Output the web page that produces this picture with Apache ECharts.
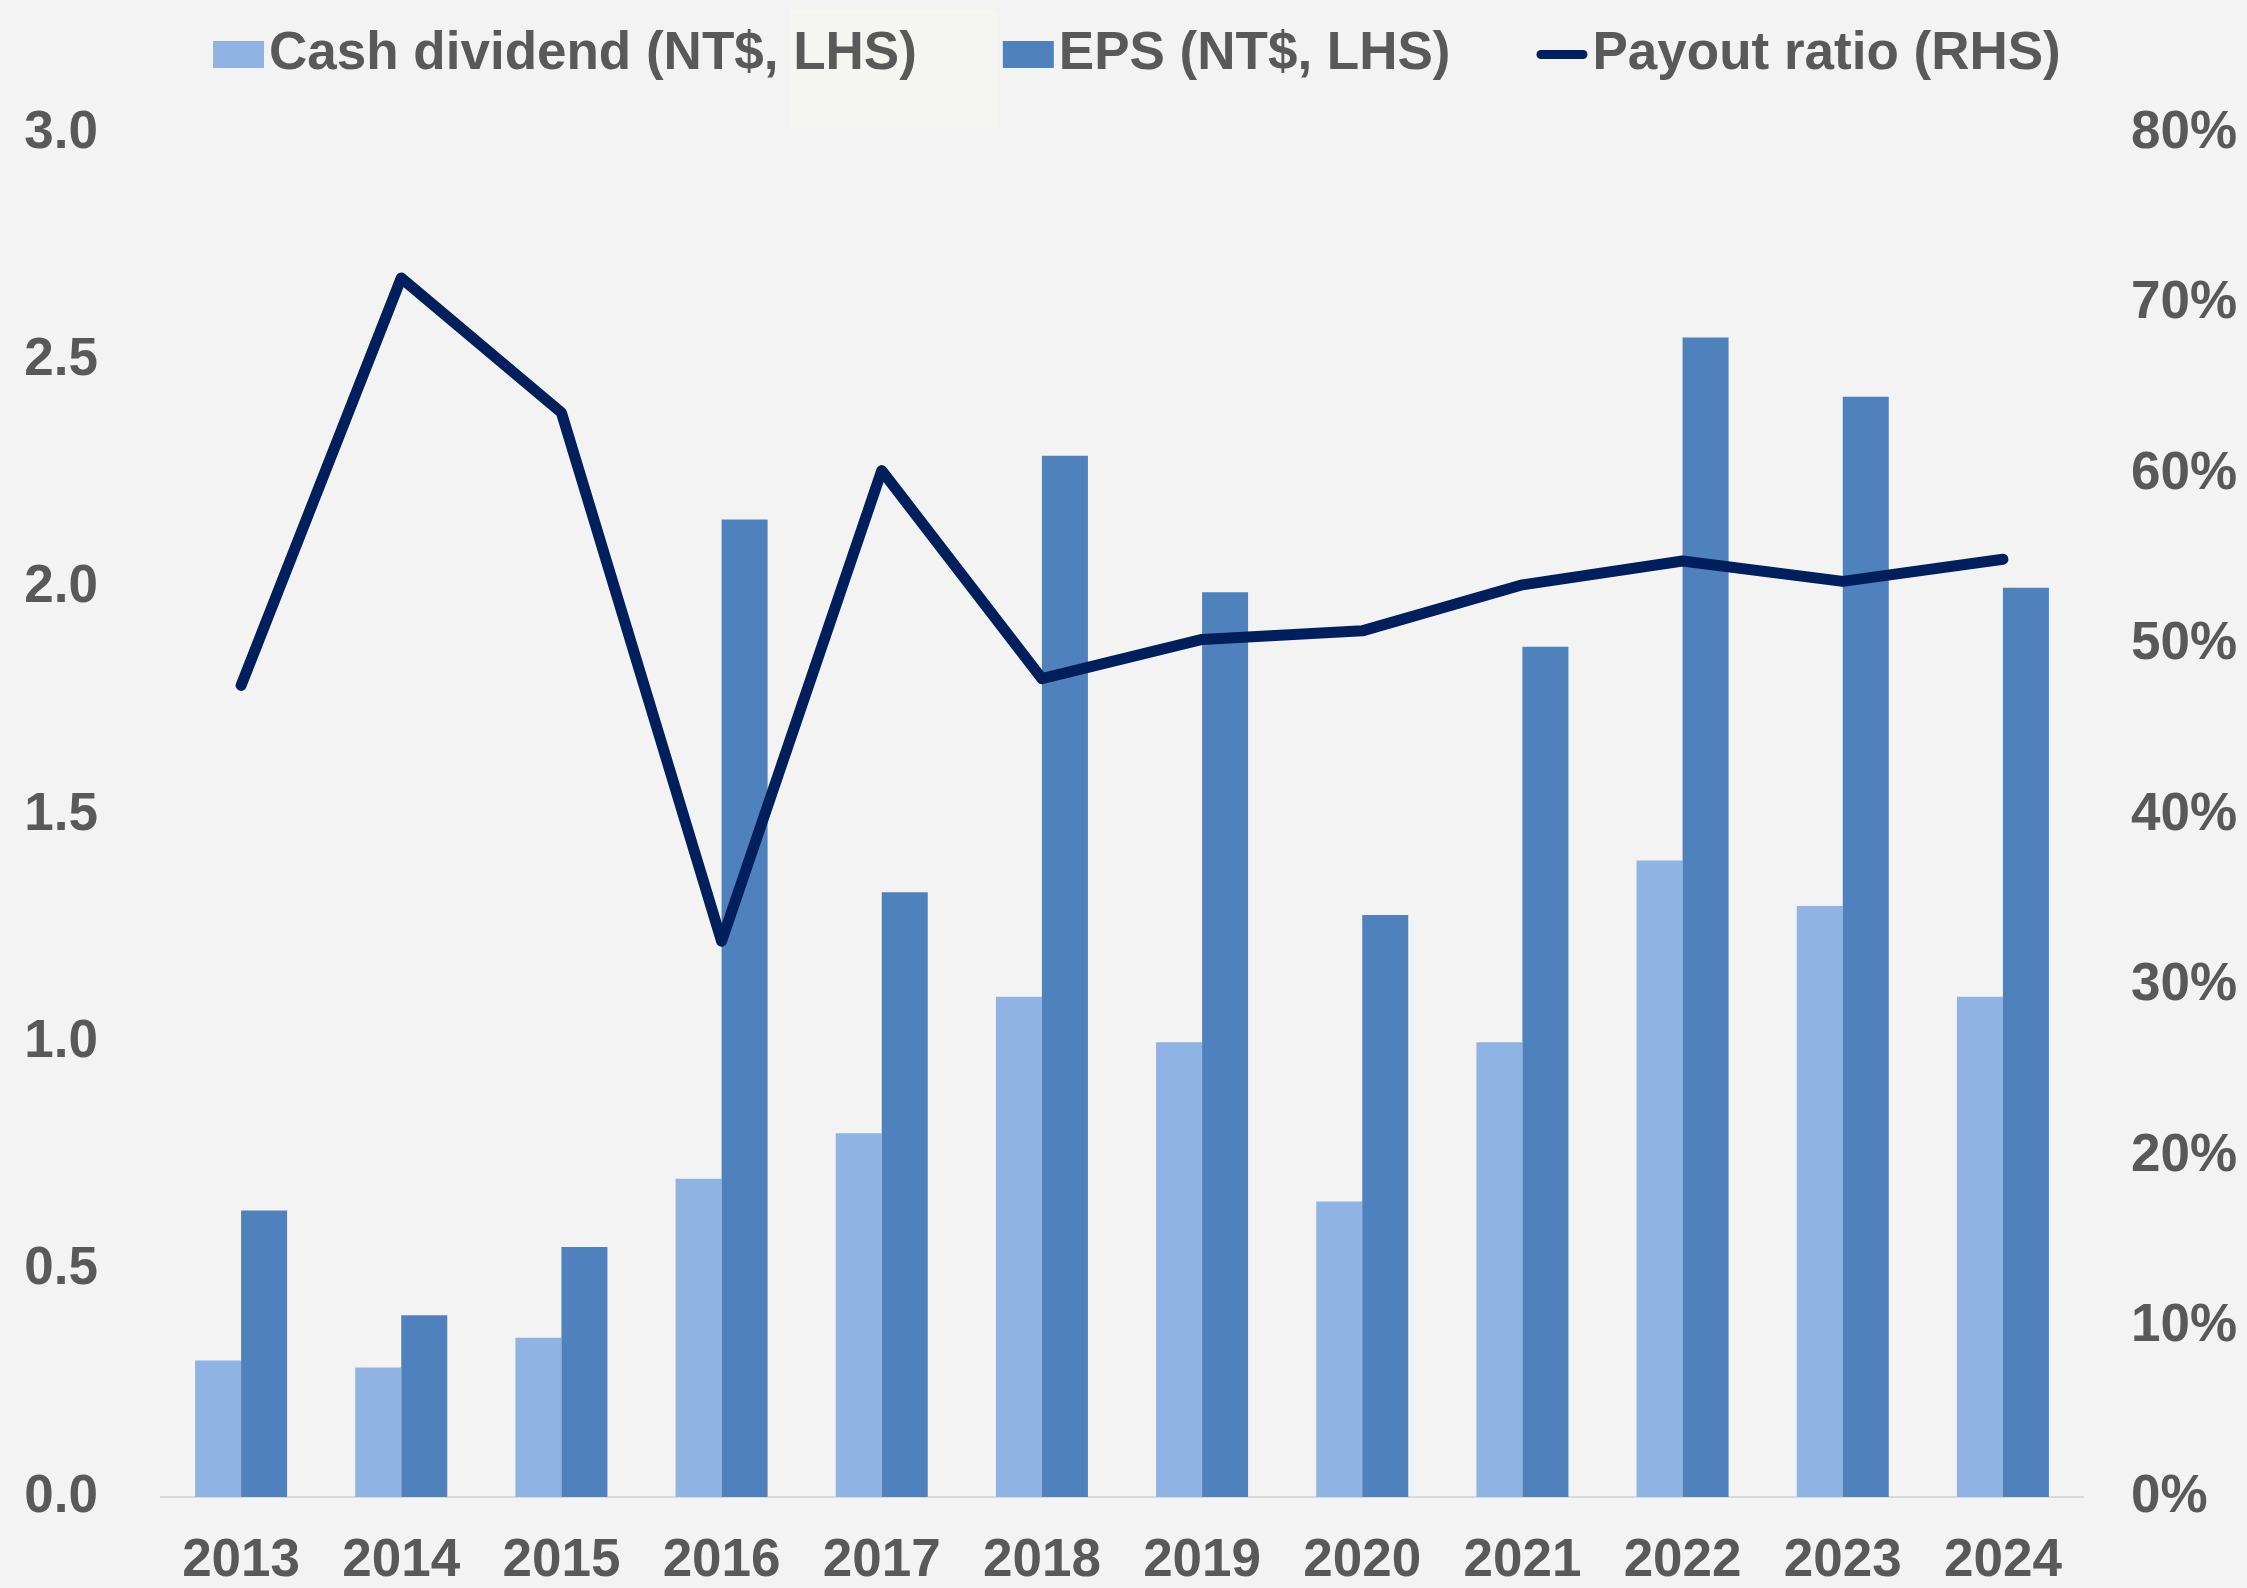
<!DOCTYPE html>
<html>
<head>
<meta charset="utf-8">
<title>Cash dividend, EPS and payout ratio</title>
<script src="https://cdn.jsdelivr.net/npm/echarts@6/dist/echarts.min.js"></script>
<style>
  html, body { margin: 0; padding: 0; background: #f2f3f2; }
  #chatMain { width: 2247px; height: 1588px; }
</style>
</head>
<body>
<div id="chatMain"></div>
<script>
// data
var years = ['2013', '2014', '2015', '2016', '2017', '2018', '2019', '2020', '2021', '2022', '2023', '2024'];
var cashDividend = [0.30, 0.285, 0.35, 0.70, 0.80, 1.10, 1.00, 0.65, 1.00, 1.40, 1.30, 1.10];
var eps = [0.63, 0.40, 0.55, 2.15, 1.33, 2.29, 1.99, 1.28, 1.87, 2.55, 2.42, 2.00];
var payoutRatio = [47.6, 71.5, 63.6, 32.6, 60.2, 48.0, 50.3, 50.8, 53.5, 54.9, 53.7, 55.0];

var font = '"Liberation Sans", Arial, sans-serif';
var textColor = '#595959';
// thick rounded dash for the line's legend entry (moveTo points keep the box 63x27)
var lineIcon = 'path://M0,0M63,27M5.5,8L57.5,8A5.5,5.5,0,0,1,57.5,19L5.5,19A5.5,5.5,0,0,1,5.5,8Z';

var myChart = echarts.init(document.getElementById('chatMain'));

myChart.setOption({
  backgroundColor: '#f2f3f2',
  animation: false,
  textStyle: { fontFamily: font },
  // faint scanned patch behind the legend
  graphic: [{
    type: 'rect',
    z: 0,
    shape: { x: 790, y: 10, width: 207, height: 118 },
    style: { fill: '#f5f5f1' }
  }],
  legend: {
    left: 208,
    top: 23,
    itemWidth: 51,
    itemHeight: 27,
    itemGap: 86,
    textStyle: {
      color: textColor,
      fontSize: 53,
      fontWeight: 'bold',
      fontFamily: font
    },
    data: [
      { name: 'Cash dividend (NT$, LHS)', icon: 'rect' },
      { name: 'EPS (NT$, LHS)', icon: 'rect' },
      { name: 'Payout ratio (RHS)', icon: lineIcon }
    ]
  },
  grid: {
    left: 161,
    right: 164,
    top: 133,
    bottom: 91,
    containLabel: false
  },
  xAxis: {
    type: 'category',
    data: years,
    axisLine: { show: true, lineStyle: { color: '#d9d9d9', width: 2 } },
    axisTick: { show: false },
    axisLabel: {
      color: textColor,
      fontSize: 53,
      fontWeight: 'bold',
      fontFamily: font,
      margin: 38
    }
  },
  yAxis: [{
    type: 'value',
    min: 0,
    max: 3,
    interval: 0.5,
    splitLine: { show: false },
    axisLine: { show: false },
    axisTick: { show: false },
    axisLabel: {
      color: textColor,
      fontSize: 53,
      fontWeight: 'bold',
      fontFamily: font,
      margin: 63,
      formatter: function (v) { return v.toFixed(1); }
    }
  }, {
    type: 'value',
    min: 0,
    max: 80,
    interval: 10,
    splitLine: { show: false },
    axisLine: { show: false },
    axisTick: { show: false },
    axisLabel: {
      color: textColor,
      fontSize: 53,
      fontWeight: 'bold',
      fontFamily: font,
      margin: 48,
      formatter: '{value}%'
    }
  }],
  series: [{
    name: 'Cash dividend (NT$, LHS)',
    type: 'bar',
    yAxisIndex: 0,
    data: cashDividend,
    barWidth: 46,
    barGap: '0%',
    itemStyle: { color: '#8fb3e2' }
  }, {
    name: 'EPS (NT$, LHS)',
    type: 'bar',
    yAxisIndex: 0,
    data: eps,
    barWidth: 46,
    barGap: '0%',
    itemStyle: { color: '#4f81bd' }
  }, {
    name: 'Payout ratio (RHS)',
    type: 'line',
    yAxisIndex: 1,
    data: payoutRatio,
    symbol: 'none',
    showSymbol: false,
    z: 5,
    itemStyle: { color: '#001f5c' },
    lineStyle: {
      color: '#001f5c',
      width: 11,
      join: 'round',
      cap: 'round'
    }
  }]
});
</script>
</body>
</html>
